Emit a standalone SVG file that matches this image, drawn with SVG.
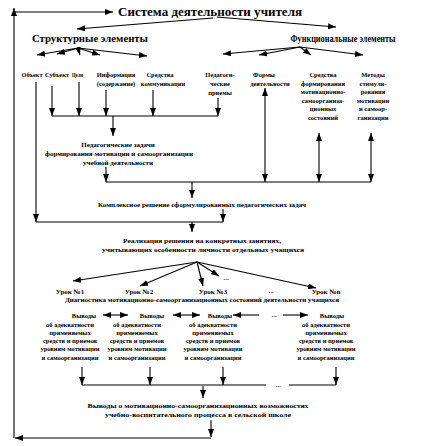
<svg xmlns="http://www.w3.org/2000/svg" width="432" height="446" viewBox="0 0 432 446">
<defs>
<marker id="a" viewBox="0 0 8 6" refX="8" refY="3" markerWidth="8" markerHeight="6" markerUnits="userSpaceOnUse" orient="auto-start-reverse">
<path d="M0,0 L8,3 L0,6 z" fill="#000"/>
</marker>
<style>
text{font-family:"Liberation Serif","Times New Roman",serif;font-weight:bold;fill:#000;text-anchor:middle}
.h1{font-size:13px}
.h2{font-size:10.5px}
.s{font-size:6.5px}
.m{font-size:7px}
.c path{fill:none;stroke:#000;stroke-width:1.1}
.e{marker-end:url(#a)}
.b{marker-start:url(#a);marker-end:url(#a)}
</style>
</defs>
<rect width="432" height="446" fill="#fff"/>
<g class="c" id="connectors">
<path class="e" d="M14,438 L14,8"/>
<path class="e" d="M14,12 L113,12"/>
<path class="e" d="M213,18 L77,29"/>
<path class="e" d="M217,17 L336,27"/>
<path class="e" d="M78,48 L37,55"/>
<path class="e" d="M78,48 L57,54"/>
<path class="e" d="M78,48 L80,55"/>
<path class="e" d="M78,48 L100,55"/>
<path class="e" d="M78,48 L147,56"/>
<path class="e" d="M300,47 L223,54"/>
<path class="e" d="M300,47 L259,55"/>
<path class="e" d="M300,47 L311,55"/>
<path class="e" d="M300,47 L363,55"/>
<path class="e" d="M36,82 L36,222"/>
<path class="e" d="M52,86 L52,116"/>
<path class="e" d="M79,82 L79,116"/>
<path class="e" d="M106,90 L106,116"/>
<path class="e" d="M153,90 L153,116"/>
<path class="e" d="M218,98 L218,116"/>
<path d="M52,116 L218,116"/>
<path class="e" d="M113,116 L113,136"/>
<path class="e" d="M106,167 L106,182"/>
<path d="M106,182 L371,182"/>
<path class="b" d="M265,88 L265,182"/>
<path class="b" d="M319,133 L319,182"/>
<path class="b" d="M371,133 L371,182"/>
<path class="e" d="M192,182 L192,198"/>
<path class="e" d="M223,209 L223,222"/>
<path d="M36,222 L223,222"/>
<path class="e" d="M192,222 L192,232"/>
<path class="e" d="M197,262 L73,281"/>
<path class="e" d="M197,262 L140,286"/>
<path class="e" d="M197,262 L203,286"/>
<path class="e" d="M197,262 L219,276"/>
<path class="e" d="M197,262 L316,288"/>
<path class="b" d="M103,315 L128,315"/>
<path class="b" d="M173,315 L200,315"/>
<path class="e" d="M259,315 L233,315"/>
<path class="e" d="M283,315 L308,315"/>
<path class="e" d="M82,367 L82,385"/>
<path class="e" d="M150,367 L150,385"/>
<path class="e" d="M223,367 L223,385"/>
<path class="e" d="M336,367 L336,385"/>
<path d="M82,385 L266,385 M289,385 L336,385"/>
<path class="e" d="M203,386 L203,398"/>
<path class="e" d="M211,420 L211,437"/>
<path class="e" d="M211,438 L15,438"/>
</g>
<g id="title"><text class="h1" x="210" y="16" textLength="184" lengthAdjust="spacingAndGlyphs">Система деятельности учителя</text></g>
<g id="structural"><text class="h2" x="90" y="42" textLength="116" lengthAdjust="spacingAndGlyphs">Структурные элементы</text></g>
<g id="functional"><text class="h2" x="343" y="42" textLength="105" lengthAdjust="spacingAndGlyphs">Функциональные элементы</text></g>
<g id="object"><text class="s" x="32" y="76.5" textLength="21" lengthAdjust="spacingAndGlyphs">Объект</text></g>
<g id="subject"><text class="s" x="57" y="76.5" textLength="24" lengthAdjust="spacingAndGlyphs">Субъект</text></g>
<g id="goals"><text class="s" x="77.5" y="76.5" textLength="11" lengthAdjust="spacingAndGlyphs">Цели</text></g>
<g id="info"><text class="s" x="116" y="76.5">Информация</text><text class="s" x="116" y="85.5">(содержание)</text></g>
<g id="comm"><text class="s" x="160" y="76.5">Средства</text><text class="s" x="163" y="85.5">коммуникации</text></g>
<g id="methods-ped"><text class="s" x="220" y="76.5">Педагоги-</text><text class="s" x="220" y="85.5">ческие</text><text class="s" x="220" y="94.5">приемы</text></g>
<g id="forms"><text class="s" x="264" y="76.5">Формы</text><text class="s" x="270" y="85.5">деятельности</text></g>
<g id="means"><text class="s" x="323" y="76.5">Средства</text><text class="s" x="323" y="85.5">формирования</text><text class="s" x="323" y="94">мотивационно-</text><text class="s" x="323" y="102.5">самоорганиза-</text><text class="s" x="323" y="111">ционных</text><text class="s" x="323" y="119.5">состояний</text></g>
<g id="stim"><text class="s" x="373" y="76.5">Методы</text><text class="s" x="373" y="85.5">стимули-</text><text class="s" x="373" y="94">рования</text><text class="s" x="373" y="102.5">мотивации</text><text class="s" x="373" y="111">и самоор-</text><text class="s" x="373" y="119.5">ганизации</text></g>
<g id="tasks"><text class="m" x="118" y="146.5">Педагогические задачи</text><text class="m" x="119" y="155.5" textLength="148" lengthAdjust="spacingAndGlyphs">формирования мотивации и самоорганизации</text><text class="m" x="118" y="164.5">учебной деятельности</text></g>
<g id="complex"><text class="s" x="202" y="207" textLength="208" lengthAdjust="spacingAndGlyphs">Комплексное решение сформулированных педагогических задач</text></g>
<g id="realization"><text class="m" x="202" y="242.5" textLength="158" lengthAdjust="spacingAndGlyphs">Реализация решения на конкретных занятиях,</text><text class="m" x="203" y="251.5" textLength="202" lengthAdjust="spacingAndGlyphs">учитывающих особенности личности отдельных учащихся</text></g>
<g id="lesson1"><text class="m" x="70" y="293.5">Урок №1</text></g>
<g id="lesson2"><text class="m" x="139" y="293.5">Урок №2</text></g>
<g id="lesson3"><text class="m" x="213" y="293.5">Урок №3</text></g>
<g id="lesson-dots"><text class="m" x="226" y="280">...</text><text class="m" x="271" y="293">...</text></g>
<g id="lessonN"><text class="m" x="326" y="293.5">Урок №n</text></g>
<g id="diag"><text class="m" x="202" y="301.5" textLength="274" lengthAdjust="spacingAndGlyphs">Диагностика мотивационно-самоорганизационных состояний деятельности учащихся</text></g>
<g id="concl1"><text class="s" x="84" y="317.5">Выводы</text><text class="s" x="70" y="326.5">об адекватности</text><text class="s" x="70" y="334.5">применяемых</text><text class="s" x="70" y="343">средств и приемов</text><text class="s" x="70" y="351">уровням мотивации</text><text class="s" x="70" y="359.5">и самоорганизации</text></g>
<g id="concl2"><text class="s" x="152" y="317.5">Выводы</text><text class="s" x="137" y="326.5">об адекватности</text><text class="s" x="137" y="334.5">применяемых</text><text class="s" x="137" y="343">средств и приемов</text><text class="s" x="137" y="351">уровням мотивации</text><text class="s" x="137" y="359.5">и самоорганизации</text></g>
<g id="concl3"><text class="s" x="220" y="317.5">Выводы</text><text class="s" x="213" y="326.5">об адекватности</text><text class="s" x="213" y="334.5">применяемых</text><text class="s" x="213" y="343">средств и приемов</text><text class="s" x="213" y="351">уровням мотивации</text><text class="s" x="213" y="359.5">и самоорганизации</text></g>
<g id="concl-dots"><text class="m" x="274" y="317">...</text><text class="m" x="278" y="387">...</text></g>
<g id="concl4"><text class="s" x="332" y="317.5">Выводы</text><text class="s" x="326" y="326.5">об адекватности</text><text class="s" x="326" y="334.5">применяемых</text><text class="s" x="326" y="343">средств и приемов</text><text class="s" x="326" y="351">уровням мотивации</text><text class="s" x="326" y="359.5">и самоорганизации</text></g>
<g id="final"><text class="m" x="198" y="407.5" textLength="221" lengthAdjust="spacingAndGlyphs">Выводы о мотивационно-самоорганизационных возможностях</text><text class="m" x="198" y="416.5" textLength="186" lengthAdjust="spacingAndGlyphs">учебно-воспитательного процесса в сельской школе</text></g>
</svg>
